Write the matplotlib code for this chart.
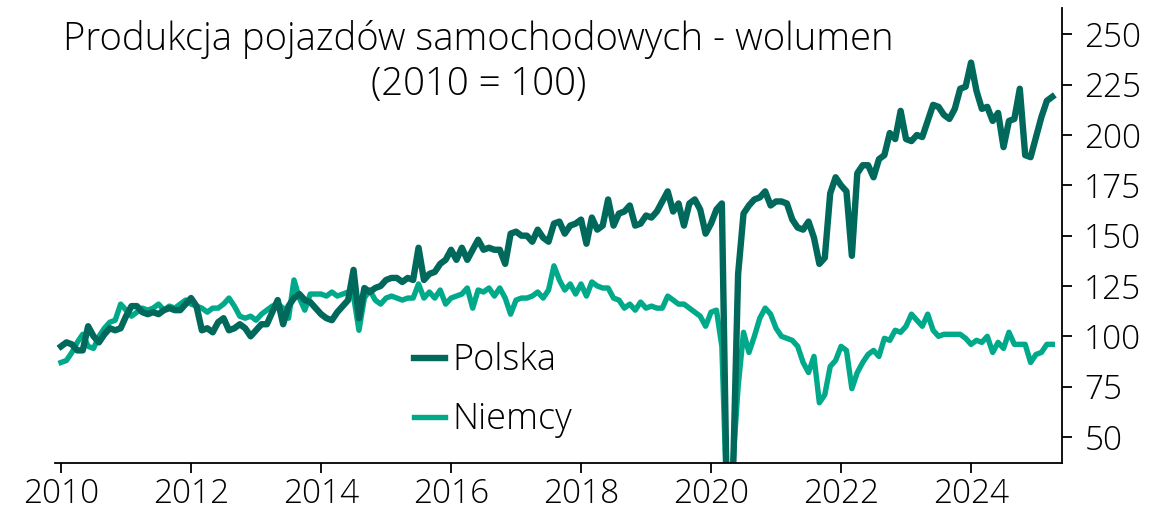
import numpy as np
import matplotlib
matplotlib.use("Agg")
import matplotlib.pyplot as plt

plt.rcParams['font.family'] = ['Open Sans', 'DejaVu Sans']
plt.rcParams['font.weight'] = 'light'

# indeks produkcji pojazdów (2010 = 100), dane miesięczne od 2010-01
start_year = 2010
polska = [
    95, 97, 96, 93, 93, 105, 100, 97, 101, 104, 103, 104,
    110, 115, 115, 112, 111, 112, 111, 113, 114, 113, 113, 116,
    119, 115, 103, 104, 102, 107, 109, 103, 104, 106, 104, 100,
    103, 106, 106, 112, 118, 106, 115, 119, 121, 118, 117, 114,
    111, 109, 108, 112, 115, 118, 133, 109, 124, 122, 124, 125,
    128, 129, 129, 127, 129, 128, 144, 128, 131, 132, 136, 138,
    143, 138, 144, 138, 143, 148, 143, 144, 143, 143, 136, 151,
    152, 150, 150, 147, 153, 149, 147, 156, 157, 151, 155, 156,
    158, 146, 159, 153, 155, 168, 155, 161, 162, 165, 155, 156,
    160, 159, 162, 167, 172, 162, 166, 155, 166, 168, 163, 151,
    156, 163, 166, 5, 25, 131, 161, 165, 168, 169, 172, 165,
    167, 167, 166, 158, 154, 153, 157, 149, 136, 139, 171, 179,
    175, 172, 140, 181, 185, 185, 179, 188, 190, 201, 198, 212,
    198, 197, 200, 199, 207, 215, 214, 210, 208, 213, 223, 224,
    236, 222, 213, 214, 207, 211, 194, 207, 208, 223, 190, 189,
    199, 209, 217, 219,
]
niemcy = [
    87, 88, 92, 97, 101, 95, 94, 100, 104, 107, 108, 116,
    113, 110, 112, 114, 113, 114, 116, 113, 115, 114, 116, 118,
    116, 115, 114, 112, 114, 114, 116, 119, 115, 110, 109, 110,
    108, 111, 113, 115, 116, 114, 109, 128, 119, 113, 121, 121,
    121, 120, 122, 120, 121, 122, 120, 103, 119, 123, 118, 116,
    119, 120, 119, 118, 119, 119, 126, 119, 122, 119, 123, 116,
    119, 120, 121, 124, 114, 123, 122, 124, 120, 124, 119, 111,
    118, 119, 119, 120, 122, 119, 123, 135, 128, 123, 126, 121,
    126, 120, 127, 125, 124, 124, 119, 118, 114, 116, 113, 117,
    114, 115, 114, 114, 120, 118, 116, 116, 114, 112, 110, 105,
    112, 113, 95, 10, 35, 75, 102, 92, 100, 109, 114, 111,
    104, 100, 99, 98, 95, 87, 82, 90, 67, 71, 85, 88,
    95, 93, 74, 82, 87, 91, 93, 90, 99, 98, 103, 102,
    105, 111, 108, 105, 111, 103, 100, 101, 101, 101, 101, 99,
    96, 98, 97, 100, 92, 97, 94, 102, 96, 96, 96, 87,
    91, 92, 96, 96,
]
year_ticks = [2010, 2012, 2014, 2016, 2018, 2020, 2022, 2024]
value_ticks = [50, 75, 100, 125, 150, 175, 200, 225, 250]

t = start_year + np.arange(len(polska)) / 12

dark = '#00695b'
light = '#00a98a'

fig = plt.figure(figsize=(11.5, 5.14), dpi=100)
ax = fig.add_axes([0.048, 0.099, 0.8755, 0.885])

l_de, = ax.plot(t, niemcy, color=light, lw=3.9, solid_joinstyle='round')
l_pl, = ax.plot(t, polska, color=dark, lw=4.6, solid_joinstyle='round')

ax.set_xlim(2009.91, 2025.40)
ax.set_ylim(37, 263)
ax.set_xticks(year_ticks)
ax.set_yticks(value_ticks)

ax.yaxis.tick_right()
ax.spines['left'].set_visible(False)
ax.spines['top'].set_visible(False)
for s in ('right', 'bottom'):
    ax.spines[s].set_linewidth(1.3)
ax.tick_params(axis='both', labelsize=24, width=1.3, length=7, direction='out')
ax.tick_params(axis='x', pad=3)
ax.tick_params(axis='y', pad=9)

fig.text(0.416, 0.962, 'Produkcja pojazdów samochodowych - wolumen\n(2010 = 100)',
         ha='center', va='top', fontsize=27.5, linespacing=1.25)

ax.legend([l_pl, l_de], ['Polska', 'Niemcy'], loc='center',
          bbox_to_anchor=(0.435, 0.16), frameon=False, fontsize=26,
          handlelength=0.85, handletextpad=0.2, labelspacing=0.6)

fig.savefig('out.png', dpi=100)
